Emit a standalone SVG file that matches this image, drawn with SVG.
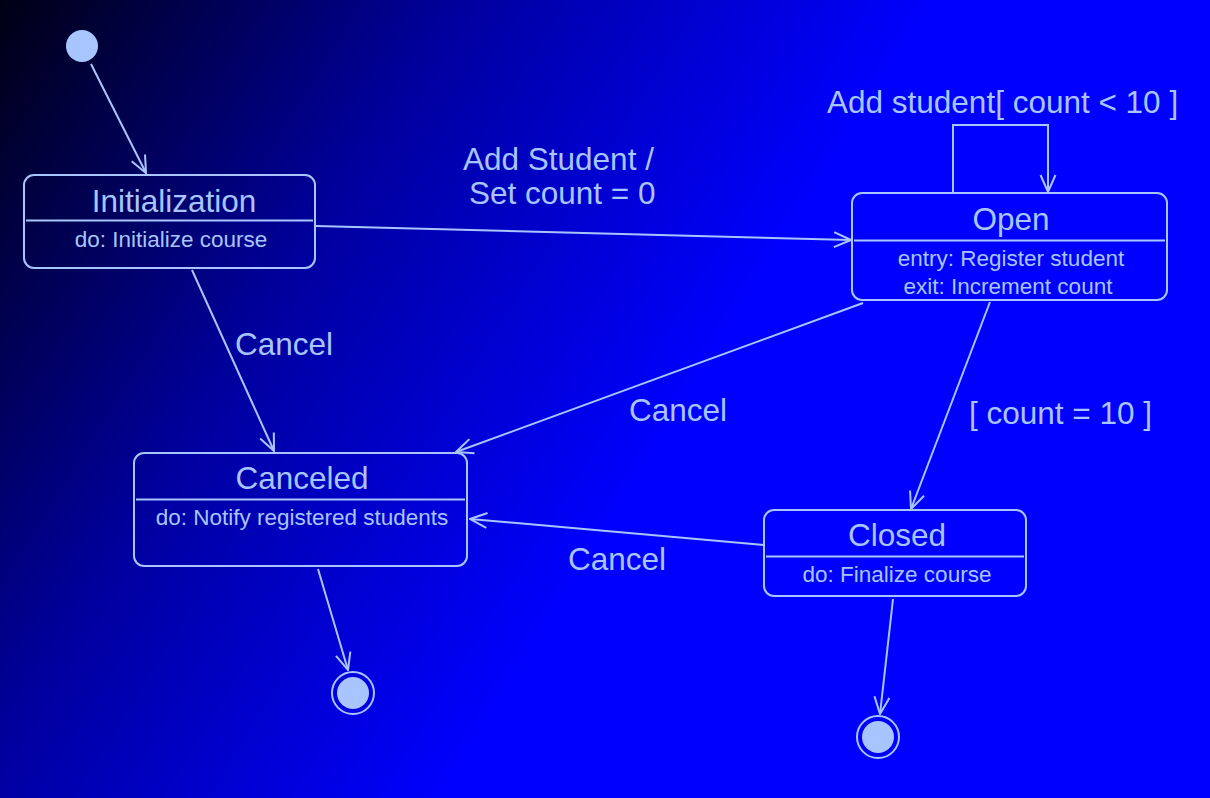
<svg xmlns="http://www.w3.org/2000/svg" width="1210" height="798" viewBox="0 0 1210 798">
<defs>
<linearGradient id="bg" gradientUnits="userSpaceOnUse" x1="0" y1="0" x2="680" y2="420">
<stop offset="0" stop-color="#000014"/>
<stop offset="0.5" stop-color="#0000a0"/>
<stop offset="1" stop-color="#0000ff"/>
</linearGradient>
<marker id="arr" markerUnits="userSpaceOnUse" markerWidth="20" markerHeight="20" viewBox="0 0 20 20" refX="19" refY="10" orient="auto">
<path d="M2,2.5 L19,10 L2,17.5" fill="none" stroke="#a9c5ff" stroke-width="2"/>
</marker>
</defs>
<style>
.st{fill:none;stroke:#a9c5ff;stroke-width:2}
.ln{fill:none;stroke:#a9c5ff;stroke-width:2;marker-end:url(#arr)}
.t{font-family:"Liberation Sans",Arial,sans-serif;fill:#a9c5ff;font-size:31.5px;text-anchor:middle}
.b{font-family:"Liberation Sans",Arial,sans-serif;fill:#a9c5ff;font-size:22.5px;text-anchor:middle}
.l{font-family:"Liberation Sans",Arial,sans-serif;fill:#a9c5ff;font-size:31.5px}
</style>
<rect width="1210" height="798" fill="url(#bg)"/>
<g id="connectors">
<line class="ln" x1="91" y1="64" x2="146" y2="173"/>
<line class="ln" x1="316" y1="226" x2="851" y2="240"/>
<line class="ln" x1="192" y1="270" x2="274" y2="451"/>
<line class="ln" x1="863" y1="303" x2="456" y2="452"/>
<line class="ln" x1="990" y1="302" x2="911" y2="509"/>
<line class="ln" x1="764" y1="545" x2="470" y2="519"/>
<line class="ln" x1="318" y1="569" x2="348" y2="670"/>
<line class="ln" x1="893" y1="599" x2="880" y2="714"/>
<polyline class="ln" points="953,193 953,125 1048,125 1048,192"/>
<text class="l" x="463" y="170">Add Student /</text>
<text class="l" x="469" y="204">Set count = 0</text>
<text class="l" x="827" y="113">Add student[ count &lt; 10 ]</text>
<text class="l" x="235" y="355">Cancel</text>
<text class="l" x="629" y="421">Cancel</text>
<text class="l" x="969" y="424">[ count = 10 ]</text>
<text class="l" x="568" y="570">Cancel</text>
</g>
<g id="initial">
<circle cx="82" cy="46" r="16" fill="#a9c5ff"/>
</g>
<g id="initialization">
<rect class="st" x="24" y="175" width="291" height="93" rx="10"/>
<line class="st" x1="26" y1="220.5" x2="313" y2="220.5"/>
<text class="t" x="174" y="212">Initialization</text>
<text class="b" x="171" y="247">do: Initialize course</text>
</g>
<g id="open">
<rect class="st" x="852" y="193" width="315" height="107" rx="10"/>
<line class="st" x1="854" y1="240.5" x2="1165" y2="240.5"/>
<text class="t" x="1011" y="230">Open</text>
<text class="b" x="1011" y="266">entry: Register student</text>
<text class="b" x="1008" y="294">exit: Increment count</text>
</g>
<g id="canceled">
<rect class="st" x="134" y="453" width="333" height="113" rx="10"/>
<line class="st" x1="136" y1="499.5" x2="465" y2="499.5"/>
<text class="t" x="302" y="489">Canceled</text>
<text class="b" x="302" y="525">do: Notify registered students</text>
</g>
<g id="closed">
<rect class="st" x="764" y="510" width="262" height="86" rx="10"/>
<line class="st" x1="766" y1="556.5" x2="1024" y2="556.5"/>
<text class="t" x="897" y="546">Closed</text>
<text class="b" x="897" y="582">do: Finalize course</text>
</g>
<g id="final1">
<circle class="st" cx="353" cy="693" r="21"/>
<circle cx="353" cy="693" r="16" fill="#a9c5ff"/>
</g>
<g id="final2">
<circle class="st" cx="878" cy="737" r="21"/>
<circle cx="878" cy="737" r="16" fill="#a9c5ff"/>
</g>
</svg>
